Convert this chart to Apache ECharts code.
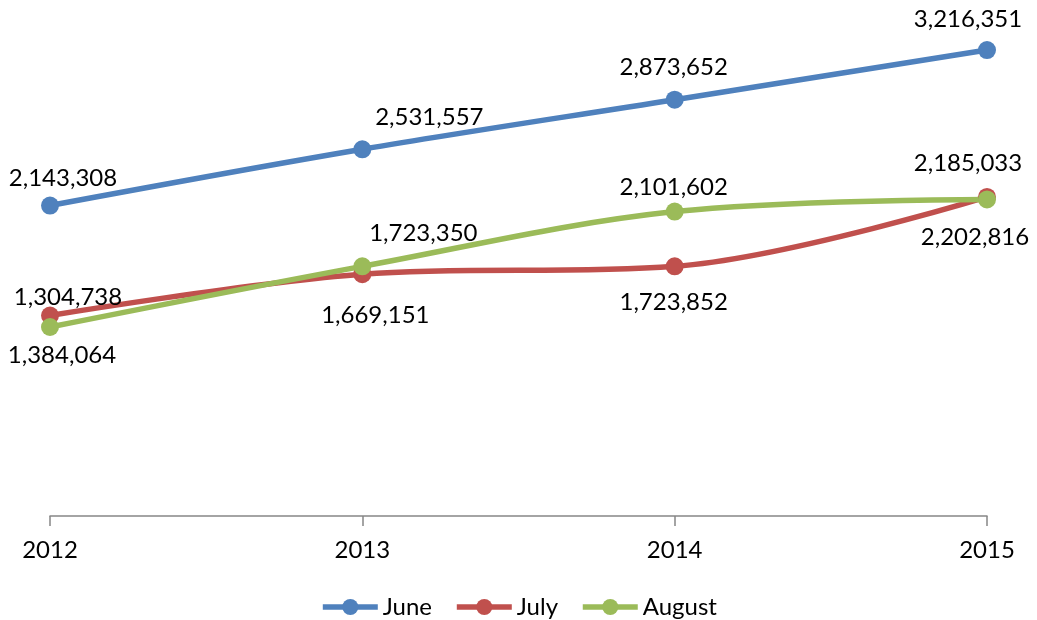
<!DOCTYPE html>
<html><head><meta charset="utf-8">
<script src="https://cdn.jsdelivr.net/npm/echarts@6/dist/echarts.min.js"></script>
<style>html,body{margin:0;padding:0;background:#fff}#c{width:1037px;height:620px}</style>
</head><body><div id="c"></div>
<script>
const categories = ['2012', '2013', '2014', '2015'];
const june = [2143308, 2531557, 2873652, 3216351];
const july = [1384064, 1669151, 1723852, 2202816];
const august = [1304738, 1723350, 2101602, 2185033];

// label offsets (style only), relative to the point
const labelOffsets = {
  June: [[13, -27], [67, -32], [-1, -32], [-19, -31]],
  July: [[12, 40], [13, 41], [-1, 36], [-12, 40]],
  August: [[18, -30], [61, -33], [-1, -24], [-19, -36]]
};
const colors = { June: '#4F81BD', July: '#C0504D', August: '#9BBB59' };
const FONT = 'Lato';
const FS = 24;

function makeSeries(name, values) {
  return {
    name: name,
    type: 'line',
    smooth: 0.35,
    symbol: 'circle',
    symbolSize: 18,
    lineStyle: { width: 5.5, color: colors[name] },
    itemStyle: { color: colors[name] },
    data: values.map((v, i) => ({
      value: v,
      label: { offset: labelOffsets[name][i] }
    })),
    label: {
      show: true,
      position: 'inside',
      color: '#000',
      fontFamily: FONT,
      fontSize: FS,
      formatter: p => p.value.toLocaleString('en-US')
    },
    emphasis: { disabled: true },
    animation: false
  };
}

const chart = echarts.init(document.getElementById('c'));
chart.setOption({
  animation: false,
  grid: { left: 50, right: 50, top: 9, bottom: 104 },
  legend: {
    top: 590,
    left: 'center',
    itemWidth: 55,
    itemHeight: 20,
    itemGap: 22,
    lineStyle: { width: 5.5 },
    textStyle: { fontFamily: FONT, fontSize: FS, color: '#000' },
    data: ['June', 'July', 'August']
  },
  xAxis: {
    type: 'category',
    data: categories,
    boundaryGap: false,
    axisLine: { lineStyle: { color: '#868686', width: 1.5 } },
    axisTick: { length: 10, lineStyle: { color: '#868686', width: 1.5 } },
    axisLabel: { fontFamily: FONT, fontSize: FS, color: '#000', margin: 22 }
  },
  yAxis: {
    type: 'value',
    min: 0,
    max: 3500000,
    show: false,
    splitLine: { show: false }
  },
  series: [
    makeSeries('June', june),
    makeSeries('July', july),
    makeSeries('August', august)
  ]
});
</script></body></html>
